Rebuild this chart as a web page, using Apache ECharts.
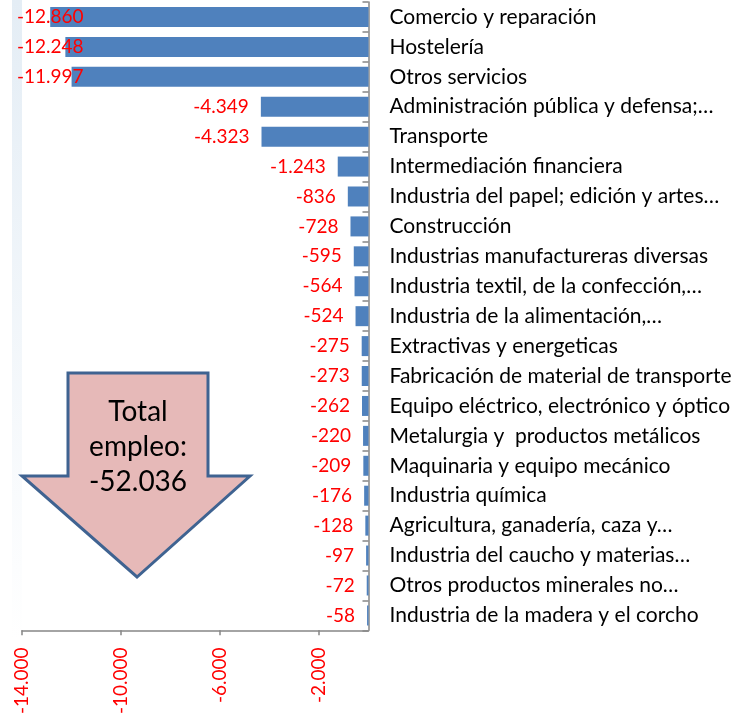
<!DOCTYPE html>
<html>
<head>
    <meta charset="utf-8" />
    <script src="https://cdn.jsdelivr.net/npm/echarts@6/dist/echarts.min.js"></script>
    <style>
        html, body { margin: 0; padding: 0; background: #fff; }
        #main { width: 745px; height: 717px; }
    </style>
</head>
<body>
    <div id="main"></div>
    <script>
        // sectores (de arriba a abajo)
        var sectores = [
            'Comercio y reparación',
            'Hostelería',
            'Otros servicios',
            'Administración pública y defensa;…',
            'Transporte',
            'Intermediación financiera',
            'Industria del papel; edición y artes…',
            'Construcción',
            'Industrias manufactureras diversas',
            'Industria textil, de la confección,…',
            'Industria de la alimentación,…',
            'Extractivas y energeticas',
            'Fabricación de material de transporte',
            'Equipo eléctrico, electrónico y óptico',
            'Metalurgia y  productos metálicos',
            'Maquinaria y equipo mecánico',
            'Industria química',
            'Agricultura, ganadería, caza y…',
            'Industria del caucho y materias…',
            'Otros productos minerales no…',
            'Industria de la madera y el corcho'
        ];
        // variación del empleo
        var variacion = [-12860, -12248, -11997, -4349, -4323, -1243, -836, -728, -595, -564,
            -524, -275, -273, -262, -220, -209, -176, -128, -97, -72, -58];
        var ticksX = [-14000, -10000, -6000, -2000];
        var totalTexto = 'Total\nempleo:\n-52.036';

        var fuente = 'Lato';

        // formato con punto de miles
        function fmt(v) {
            var s = String(Math.abs(Math.round(v)));
            s = s.replace(/\B(?=(\d{3})+(?!\d))/g, '.');
            return (v < 0 ? '-' : '') + s;
        }

        var option = {
            backgroundColor: '#fff',
            animation: false,
            grid: { left: 22, right: 376.5, top: 2, bottom: 86, containLabel: false },
            xAxis: {
                type: 'value',
                min: -14000,
                max: 0,
                interval: 4000,
                splitLine: { show: false },
                axisLine: { show: true, lineStyle: { color: '#868686', width: 1.5 } },
                axisTick: { show: true, length: 5, customValues: ticksX, lineStyle: { color: '#868686', width: 1.5 } },
                axisLabel: {
                    customValues: ticksX,
                    rotate: 90,
                    margin: 17,
                    color: '#ff0000',
                    fontFamily: fuente,
                    fontSize: 19,
                    formatter: fmt
                }
            },
            yAxis: {
                type: 'category',
                position: 'right',
                inverse: true,
                data: sectores,
                axisLine: { show: true, lineStyle: { color: '#868686', width: 1.5 } },
                axisTick: { show: true, inside: true, length: 6, lineStyle: { color: '#868686', width: 1.5 } },
                axisLabel: {
                    margin: 21,
                    color: '#000',
                    fontFamily: fuente,
                    fontSize: 21
                }
            },
            series: [{
                type: 'bar',
                data: variacion,
                barWidth: 20,
                itemStyle: { color: '#4f81bd' },
                label: {
                    show: true,
                    position: 'left',
                    distance: 12,
                    color: '#ff0000',
                    fontFamily: fuente,
                    fontSize: 19,
                    formatter: function (p) { return fmt(p.value); }
                },
                labelLayout: function (p) {
                    // etiquetas que salen del área se quedan dentro (como en Excel)
                    var r = p.labelRect;
                    if (r.x < 17) return { dx: 17 - r.x };
                    return {};
                }
            }],
            graphic: [
                {
                    type: 'rect',
                    z: -1,
                    shape: { x: 12, y: 0, width: 10, height: 640 },
                    style: {
                        fill: new echarts.graphic.LinearGradient(0, 0, 0, 1, [
                            { offset: 0, color: '#e4edf5' },
                            { offset: 1, color: '#ffffff' }
                        ])
                    }
                },
                {
                    type: 'polygon',
                    shape: {
                        points: [[68, 373], [208, 373], [208, 476], [250, 476], [137, 577], [22, 476], [68, 476]]
                    },
                    style: { fill: '#e6b9b8', stroke: '#3f6391', lineWidth: 3, lineJoin: 'miter' }
                },
                {
                    type: 'text',
                    x: 138,
                    y: 447,
                    style: {
                        text: totalTexto,
                        fill: '#000',
                        fontFamily: fuente,
                        fontSize: 28,
                        lineHeight: 35,
                        align: 'center',
                        verticalAlign: 'middle'
                    }
                }
            ]
        };

        var myChart = echarts.init(document.getElementById('main'));
        myChart.setOption(option);
    </script>
</body>
</html>
